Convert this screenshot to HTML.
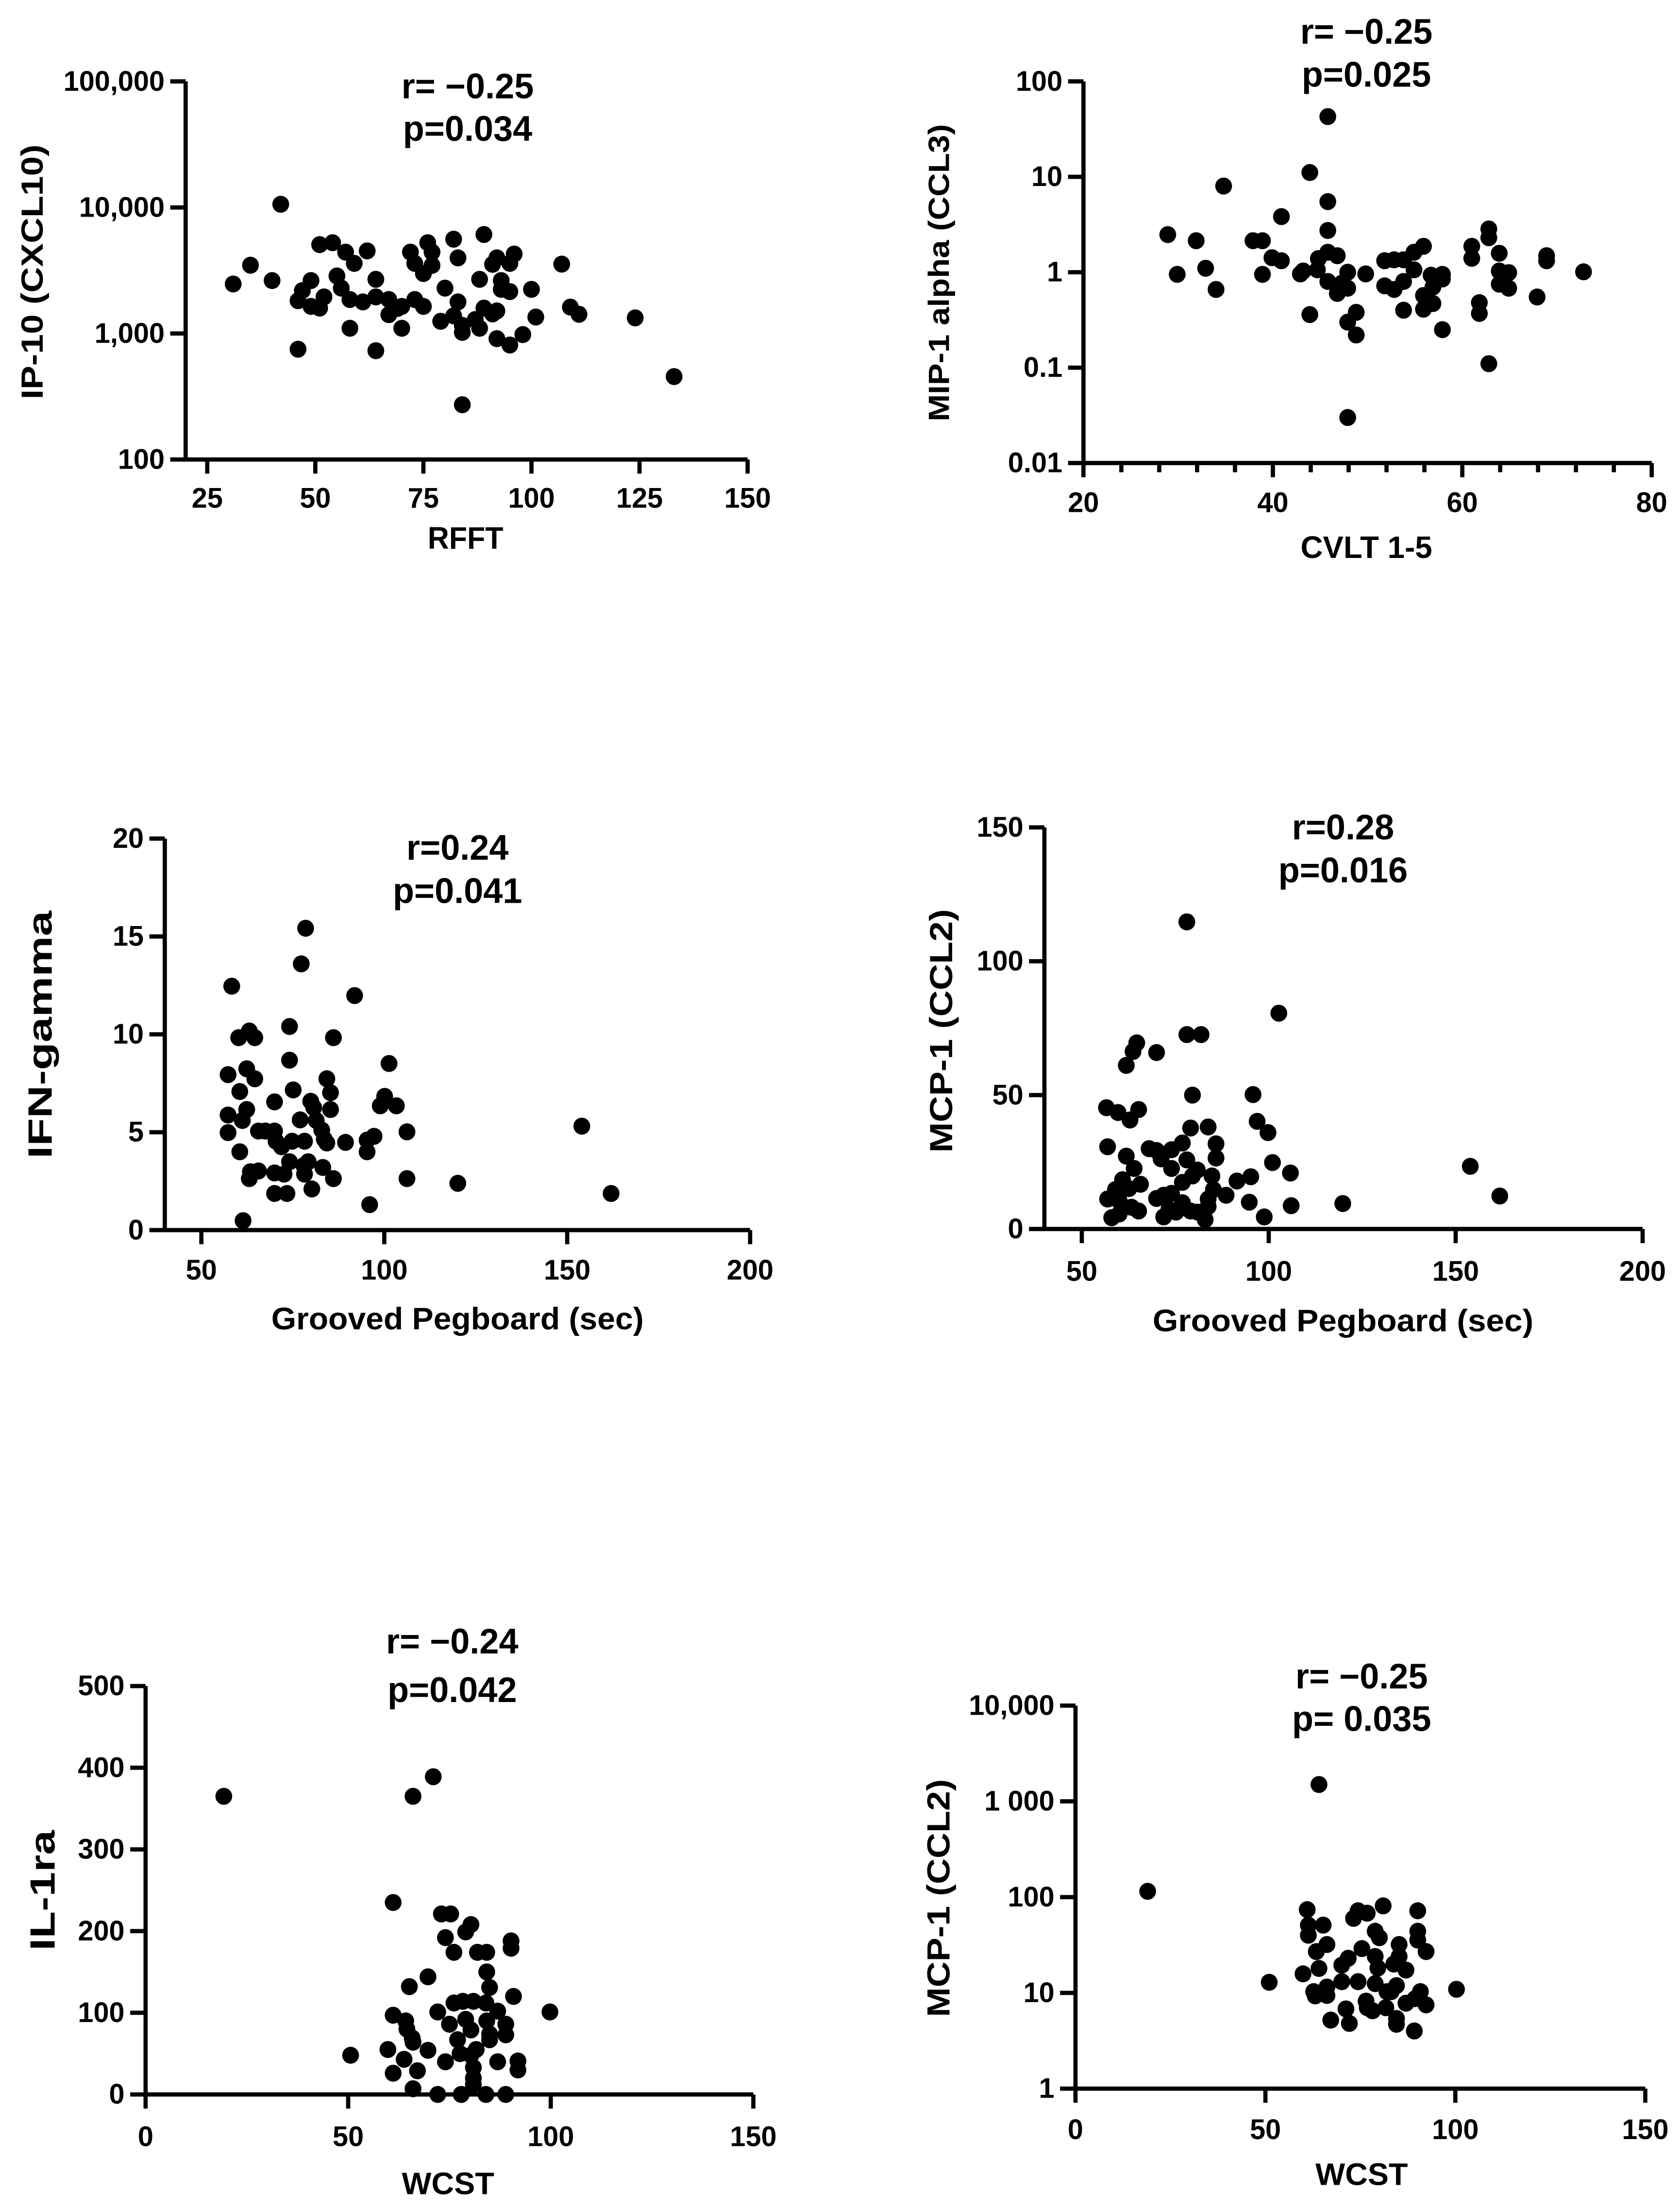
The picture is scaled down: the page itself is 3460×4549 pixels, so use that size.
<!DOCTYPE html>
<html><head><meta charset="utf-8"><title>Correlation scatter plots</title>
<style>
html,body{margin:0;padding:0;background:#fff;}
svg{display:block;}
text{font-family:"Liberation Sans",Arial,sans-serif;font-weight:bold;fill:#000;}
</style></head>
<body>
<svg id="fig" xmlns="http://www.w3.org/2000/svg" width="3460" height="4549" viewBox="0 0 1200 1560" preserveAspectRatio="none">
<rect x="0" y="0" width="1200" height="1560" fill="#fff"/>
</svg>
<script>
// ---- Panel 1: IP-10 vs RFFT ----
const p1X = [31,35,40,42,46,46,47,49,49,51,51,52,54,55,56,57,58,58,59,61,62,64,64,64,67,67,69,70,70,72,73,73,75,75,76,77,77,79,80,82,82,83,83,84,84,84,87,88,88,89,89,91,91,92,92,92,93,93,95,95,95,96,98,100,101,107,109,111,124,133];
const p1Y = [2470,3480,2630,10600,1820,750,2190,2630,1640,5070,1590,1950,5250,2860,2290,4420,1860,1100,3600,1780,4520,2690,1950,730,1410,1860,1580,1100,1640,4420,1860,3600,1640,2990,5250,4420,3470,1250,2290,5600,1380,3980,1780,1160,1020,272,1290,2690,1100,6100,1590,1430,3540,3980,1510,910,2630,2240,3600,2150,810,4270,980,2240,1350,3550,1620,1420,1330,455];
const p1XTicks = [25,50,75,100,125,150];
const p1YTicks = [100,1000,10000,100000];
const p1YTickLabels = ["100","1,000","10,000","100,000"];

// ---- Panel 2: MIP-1 alpha vs CVLT ----
const p2X = [28.9,29.9,31.9,32.9,34,34.8,37.9,38.9,38.9,39.9,40.9,40.9,42.9,43.2,43.9,43.9,44.7,44.8,45.8,45.8,45.8,45.8,45.8,46.8,46.8,47.3,47.9,47.9,47.9,47.9,48.8,48.8,49.8,51.8,51.8,52.8,52.8,53.8,53.8,53.8,54.9,54.9,55.9,55.9,55.9,56.7,56.9,56.9,57.9,57.9,57.9,61,61,61.8,61.8,62.8,62.8,62.8,63.9,63.9,63.9,64.9,64.9,67.9,68.9,68.9,72.8];
const p2Y = [2.48,0.95,2.14,1.1,0.66,8.0,2.14,2.14,0.95,1.42,3.83,1.32,0.96,1.03,11.1,0.36,1.06,1.39,42.8,5.5,2.74,1.62,0.8,1.49,0.6,0.77,1.0,0.68,0.3,0.03,0.38,0.22,0.96,1.32,0.72,1.35,0.66,0.8,1.35,0.4,1.62,1.06,1.87,0.57,0.41,0.93,0.7,0.47,0.95,0.85,0.25,1.87,1.4,0.48,0.37,2.84,2.3,0.11,1.58,1.03,0.75,0.99,0.68,0.55,1.49,1.32,1.01];
const p2XTicks = [20,24,28,32,36,40,44,48,52,56,60,64,68,72,76,80];
const p2XLabels = [20,40,60,80];
const p2YTicks = [0.01,0.1,1,10,100];
const p2YTickLabels = ["0.01","0.1","1","10","100"];

// ---- Panel 3: IFN-gamma vs Grooved Pegboard ----
const p3X = [58.3,57.3,57.3,57.3,60.5,60.2,60.5,61.2,61.4,62.4,62.4,63.1,63.1,63.4,64.6,64.6,65.6,65.6,67.5,70,70,70,70,70.4,71.9,72.6,73.4,74.1,74.1,74.1,74.8,75.1,77,77.3,78,78.2,78.2,78.5,79.2,79.9,80.2,80.7,81.4,82.9,83.2,83.6,84.3,84.3,85.3,85.3,86.1,86.1,89.4,91.9,95.3,95.3,96,97.2,98.9,100.1,101.3,103.3,106.2,106.2,120.1,154,162];
const p3Y = [12.46,7.94,5.88,4.98,7.08,9.83,4.0,5.6,0.48,8.24,6.16,10.17,2.63,2.98,9.83,7.73,3.02,5.06,5.06,6.55,5.06,2.92,1.87,4.54,4.26,2.86,1.87,10.4,8.68,3.49,4.54,7.16,5.63,13.6,3.3,4.54,2.86,15.42,3.49,6.58,2.1,6.26,5.6,5.11,3.2,4.64,7.73,4.45,7.02,6.16,9.83,2.63,4.48,11.98,4.0,4.6,1.3,4.79,6.35,6.83,8.51,6.35,5.02,2.63,2.39,5.31,1.87];
const p3XTicks = [50,100,150,200];
const p3YTicks = [0,5,10,15,20];

// ---- Panel 4: MCP-1 vs Grooved Pegboard ----
const p4X = [78.1,102.7,78.1,81.9,64.7,63.7,70,61.9,79.6,95.8,56.6,59.7,65.2,62.9,96.9,99.8,79.1,83.8,56.9,68,70,74,76.9,85.9,61.9,71.2,78.1,85.9,101,74,64,80.9,105.8,153.9,60.9,79.6,84.8,76.9,65.7,91.5,95.2,59,62.6,85.2,56.9,60,70,71.9,74,76.9,83.8,88.6,94.8,161.8,58,60,63.3,65.2,71.9,73.3,75.2,79.1,81,83,83.8,98.8,106,119.8];
const p4Y = [114.7,80.6,72.6,72.6,69.5,66.3,65.9,61.1,50,50.2,45.3,43.5,44.6,40.7,40.2,36,37.7,38.1,30.7,30,29.3,29.6,32.1,31.8,27.2,26.2,25.8,26.5,24.8,22.6,22.6,22,20.9,23.4,18.4,19.8,19.8,17.4,16.7,17.9,19.5,14.7,15.1,14.7,11.2,10.5,11.4,12.6,13.3,9.8,11.2,12.6,10,12.3,4.2,5.6,8.1,6.7,4.5,7.3,6.3,6.7,6.3,3.5,8.4,4.5,8.7,9.5];
const p4XTicks = [50,100,150,200];
const p4YTicks = [0,50,100,150];

// ---- Panel 5: IL-1ra vs WCST ----
const p5X = [19.3,66,71,61.1,73,75.3,80.3,79,74,90.2,90.2,76.1,81.9,84.2,84.2,84.9,69.7,65.1,90.8,76.1,78.3,80.9,84,72.1,86.9,99.8,61.1,64.2,79,84.2,75,88.9,80.3,64.5,84.9,88.9,65.8,77,84.9,66,59.8,69.7,81.6,50.6,77.6,80.3,74,86.9,91.9,63.8,80.9,67.1,61.1,91.9,80.9,80.9,66,72.1,77.9,84,88.9];
const p5Y = [365,365,389,235,221,221,208,199,192,188,179,174,174,174,150,131,144,132,120,112,114,114,112,101,102,101,97,90,92,90,86,86,79,80,74,73,69,67,67,64,55,54,55,48,50,48,40,40,41,43,33,29,26,30,20,12,7,0,0,0,0];
const p5XTicks = [0,50,100,150];
const p5YTicks = [0,100,200,300,400,500];

// ---- Panel 6: MCP-1 vs WCST (log) ----
const p6X = [64.1,19,51,100.3,61,61.3,61.3,65.2,63.4,66.2,64.1,59.9,62.7,63.1,66.2,66.2,67.2,70.1,71.8,70.1,71.2,72.1,73.2,74.4,76.8,75.4,74.4,76.5,76.8,78.2,78.9,80,81,78.9,79.6,78.9,82,81.7,83.8,84.5,85.2,85.2,84.5,84.5,87,87,83.1,90.1,90.1,90.1,92.3,90.8,89.4,92.3,89.2];
const p6Y = [1500,115,12.9,10.9,74,51,40,51,27,32,18,15.8,10.3,9.3,11.5,9.4,5.2,19.5,23,13.1,6.8,4.8,60,72,68,29,13.1,8.2,7,6.5,44,37.7,81,24,18.2,12.5,10.3,7,20,11.9,32,24,4.7,5.4,17.3,7.8,10.3,72,44,35.6,27,10.3,8.7,7.5,4];
const p6XTicks = [0,50,100,150];
const p6YTicks = [1,10,100,1000,10000];
const p6YTickLabels = ["1","10","100","1 000","10,000"];

const NS = "http://www.w3.org/2000/svg";
const svg = document.getElementById("fig");
function mk(tag, attrs, parent){
  const e = document.createElementNS(NS, tag);
  for (const k in attrs) e.setAttribute(k, attrs[k]);
  (parent||svg).appendChild(e);
  return e;
}
function linScale(d0,d1,r0,r1){ return v => r0 + (v-d0)/(d1-d0)*(r1-r0); }
function logScale(d0,d1,r0,r1){ const a=Math.log10(d0), b=Math.log10(d1); return v => r0 + (Math.log10(v)-a)/(b-a)*(r1-r0); }

function panel(id, c){
  const g = mk("g", {});
  
  
  const sx = linScale(c.xd[0], c.xd[1], c.xr[0], c.xr[1]);
  const sy = (c.ylog ? logScale : linScale)(c.yd[0], c.yd[1], c.yr[0], c.yr[1]);
  const x0 = c.xr[0], y0 = c.yr[0];
  const ya = mk("line", {x1:x0, y1:c.yr[0]+1.4, x2:x0, y2:c.yr[1], stroke:"#000","stroke-width":3}, g);
  
  
  const xa = mk("line", {x1:x0-1.4, y1:y0, x2:c.xr[1], y2:y0, stroke:"#000","stroke-width":3}, g);
  
  
  c.yt.forEach((v,i) => {
    const y = sy(v);
    const t = mk("line", {x1:x0-11, y1:y, x2:x0, y2:y, stroke:"#000","stroke-width":3}, g);
    
    
    const lb = mk("text", {x:x0-15, y:y, "text-anchor":"end", "dominant-baseline":"central", "font-size":20}, g);
    
    
    lb.textContent = c.ytl ? c.ytl[i] : String(v);
  });
  c.xt.forEach(v => {
    const x = sx(v);
    const major = !c.xl || c.xl.includes(v);
    const t = mk("line", {x1:x, y1:y0, x2:x, y2:y0 + (major ? 10 : 6.5), stroke:"#000","stroke-width":3}, g);
    
    
    if (major){
      const lb = mk("text", {x:x, y:c.xly, "text-anchor":"middle", "dominant-baseline":"central", "font-size":20}, g);
      
      
      lb.textContent = String(v);
    }
  });
  const xt = mk("text", {x:c.xtp[0], y:c.xtp[1], "text-anchor":"middle", "dominant-baseline":"central", "font-size":22, textLength:c.xtl, lengthAdjust:"spacingAndGlyphs"}, g);
  
  
  xt.textContent = c.xtitle;
  const yt = mk("text", {x:0, y:0, "text-anchor":"middle", "dominant-baseline":"central", "font-size":c.yfs, textLength:c.ytl2, lengthAdjust:"spacingAndGlyphs", transform:`translate(${c.ytp[0]},${c.ytp[1]}) rotate(-90)`}, g);
  
  
  yt.textContent = c.ytitle;
  const r = mk("text", {x:c.stat[0], y:c.stat[1], "text-anchor":"middle", "dominant-baseline":"central", "font-size":25}, g);
  
  
  r.textContent = c.rtxt;
  const p = mk("text", {x:c.stat[0], y:c.stat[2], "text-anchor":"middle", "dominant-baseline":"central", "font-size":25}, g);
  
  
  p.textContent = c.ptxt;
  c.xs.forEach((xv,i) => {
    const d = mk("circle", {cx:sx(xv), cy:sy(c.ys[i]), r:6, fill:"#000"}, g);
    
    
  });
}

panel("panel-ip10-rfft", {xd:[20,150], xr:[132.6,534], yd:[100,100000], yr:[324.5,57.5], ylog:true,
  xt:p1XTicks, yt:p1YTicks, ytl:p1YTickLabels, xly:352, xtp:[332.5,380], xtl:54, ytp:[23,192], yfs:22, ytl2:180, xtitle:"RFFT", ytitle:"IP-10 (CXCL10)",
  stat:[334,61,91], rtxt:"r= \u22120.25", ptxt:"p=0.034", xs:p1X, ys:p1Y});
panel("panel-mip1a-cvlt", {xd:[20,80], xr:[773.9,1179.8], yd:[0.01,100], yr:[327,57.5], ylog:true,
  xt:p2XTicks, xl:p2XLabels, yt:p2YTicks, ytl:p2YTickLabels, xly:355, xtp:[976,386.5], xtl:94, ytp:[670.7,192.6], yfs:21, ytl2:210, xtitle:"CVLT 1-5", ytitle:"MIP-1 alpha (CCL3)",
  stat:[976,22.4,52.8], rtxt:"r= \u22120.25", ptxt:"p=0.025", xs:p2X, ys:p2Y});
panel("panel-ifng-pegboard", {xd:[40,200], xr:[117.7,535.8], yd:[0,20], yr:[868.7,592.2], ylog:false,
  xt:p3XTicks, yt:p3YTicks, xly:897, xtp:[326.8,931.2], xtl:266, ytp:[28.7,730.7], yfs:24, ytl2:175, xtitle:"Grooved Pegboard (sec)", ytitle:"IFN-gamma",
  stat:[326.8,598.8,629.2], rtxt:"r=0.24", ptxt:"p=0.041", xs:p3X, ys:p3Y});
panel("panel-mcp1-pegboard", {xd:[40,200], xr:[746,1173.3], yd:[0,150], yr:[867.9,584.3], ylog:false,
  xt:p4XTicks, yt:p4YTicks, xly:898, xtp:[959.3,932.5], xtl:272, ytp:[672.6,728], yfs:23, ytl2:172, xtitle:"Grooved Pegboard (sec)", ytitle:"MCP-1 (CCL2)",
  stat:[959.3,584.3,614.7], rtxt:"r=0.28", ptxt:"p=0.016", xs:p4X, ys:p4Y});
panel("panel-il1ra-wcst", {xd:[0,150], xr:[104,538.1], yd:[0,500], yr:[1479.1,1190.7], ylog:false,
  xt:p5XTicks, yt:p5YTicks, xly:1509, xtp:[320,1542], xtl:66, ytp:[30.6,1335], yfs:25, ytl2:85, xtitle:"WCST", ytitle:"IL-1ra",
  stat:[323,1159.2,1193.5], rtxt:"r=  \u22120.24", ptxt:"p=0.042", xs:p5X, ys:p5Y});
panel("panel-mcp1-wcst", {xd:[0,150], xr:[768.2,1175.2], yd:[1,10000], yr:[1475,1204.5], ylog:true,
  xt:p6XTicks, yt:p6YTicks, ytl:p6YTickLabels, xly:1504, xtp:[972.6,1535.4], xtl:66, ytp:[670.7,1340.4], yfs:23, ytl2:168, xtitle:"WCST", ytitle:"MCP-1 (CCL2)",
  stat:[972.6,1184,1214], rtxt:"r= \u22120.25", ptxt:"p= 0.035", xs:p6X, ys:p6Y});
</script>
</body></html>
